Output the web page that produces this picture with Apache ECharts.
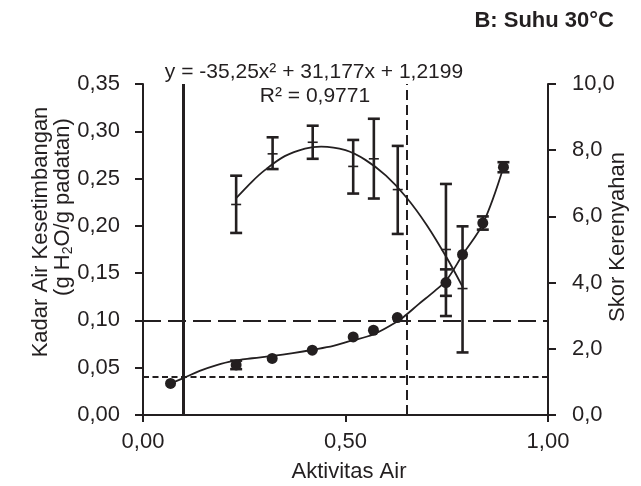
<!DOCTYPE html>
<html>
<head>
<meta charset="utf-8">
<script src="https://cdn.jsdelivr.net/npm/echarts@6/dist/echarts.min.js"></script>
<style>html,body{margin:0;padding:0;background:#fff}#c{width:641px;height:486px}</style>
</head>
<body>
<div id="c"></div>
<script>
// ---- data ----
const xTicks = [0, 0.5, 1.0];
const leftTicks = [0, 0.05, 0.10, 0.15, 0.20, 0.25, 0.30, 0.35];
const rightTicks = [0, 2, 4, 6, 8, 10];

// moisture isotherm (left axis)
const aw = [0.068, 0.230, 0.319, 0.418, 0.519, 0.569, 0.628, 0.748, 0.789, 0.839, 0.890];
const moisture = [0.0334, 0.053, 0.0598, 0.0685, 0.0826, 0.0896, 0.103, 0.140, 0.1697, 0.203, 0.262];
const moistureErr = [0, 0.0045, 0, 0, 0, 0, 0, 0.014, 0, 0.007, 0.0053];

// fitted isotherm curve
const moistCurveAw = [0.068, 0.10, 0.14, 0.18, 0.22, 0.27, 0.32, 0.37, 0.42, 0.47, 0.51, 0.57, 0.63, 0.65, 0.68, 0.72, 0.75, 0.79, 0.84, 0.89];
const moistCurveVal = [0.0334, 0.039, 0.0467, 0.0525, 0.0570, 0.0600, 0.0625, 0.0655, 0.0690, 0.0730, 0.0780, 0.0854, 0.0994, 0.1060, 0.1170, 0.1310, 0.1430, 0.1700, 0.2030, 0.2620];

// crispness score (right axis)
const crispAw = [0.230, 0.320, 0.419, 0.519, 0.570, 0.629, 0.748, 0.789];
const crispMean = [6.36, 7.89, 8.24, 7.51, 7.74, 6.81, 5.00, 3.82];
const crispLow = [5.50, 7.43, 7.74, 6.69, 6.54, 5.47, 2.99, 1.89];
const crispHigh = [7.23, 8.39, 8.74, 8.31, 8.95, 8.13, 6.98, 5.70];

// fitted crispness curve
const crispCurveAw = [0.23, 0.27, 0.30, 0.35, 0.40, 0.44, 0.50, 0.55, 0.60, 0.65, 0.70, 0.75, 0.79];
const crispCurveVal = [6.55, 7.06, 7.39, 7.82, 8.05, 8.11, 8.00, 7.70, 7.23, 6.58, 5.75, 4.75, 3.85];

// reference lines
const refAwSolid = 0.097;
const refAwDashed = 0.649;
const refMoistLong = 0.103;
const refMoistShort = 0.041;

const equationText = 'y = -35,25x² + 31,177x + 1,2199';
const r2Text = 'R² = 0,9771';
const titleText = 'B: Suhu 30°C';

// ---- chart ----
const INK = '#231f20';
const FONT = 'Liberation Sans';
const chart = echarts.init(document.getElementById('c'), null, {renderer: 'canvas'});

function errRender(params, api) {
  const x = api.value(0), lo = api.value(1), hi = api.value(2), mid = api.value(3);
  const pLo = api.coord([x, lo]), pHi = api.coord([x, hi]), pMid = api.coord([x, mid]);
  const cw = 6;
  const ch = [
    {type: 'line', shape: {x1: pLo[0], y1: pLo[1], x2: pHi[0], y2: pHi[1]}, style: {stroke: INK, lineWidth: 2.6}},
    {type: 'line', shape: {x1: pLo[0] - cw, y1: pLo[1], x2: pLo[0] + cw, y2: pLo[1]}, style: {stroke: INK, lineWidth: 2.6}},
    {type: 'line', shape: {x1: pHi[0] - cw, y1: pHi[1], x2: pHi[0] + cw, y2: pHi[1]}, style: {stroke: INK, lineWidth: 2.6}}
  ];
  if (!isNaN(mid)) {
    ch.push({type: 'line', shape: {x1: pMid[0] - 5, y1: pMid[1], x2: pMid[0] + 5, y2: pMid[1]}, style: {stroke: INK, lineWidth: 1.6}});
  }
  return {type: 'group', children: ch};
}

const crispBars = crispAw.map((x, i) => [x, crispLow[i], crispHigh[i], crispMean[i]]);
const moistBars = aw.map((x, i) => [x, moisture[i] - moistureErr[i], moisture[i] + moistureErr[i], NaN]).filter((d, i) => moistureErr[i] > 0);

const fmt2 = v => v.toFixed(2).replace('.', ',');
const fmt1 = v => v.toFixed(1).replace('.', ',');

const option = {
  animation: false,
  backgroundColor: '#fff',
  textStyle: {fontFamily: FONT},
  grid: {left: 143, right: 93, top: 84, height: 331},
  xAxis: {
    type: 'value', min: xTicks[0], max: xTicks[xTicks.length - 1], interval: 0.5,
    axisLine: {show: true, lineStyle: {color: INK, width: 2}},
    axisTick: {show: true, inside: false, length: 7, lineStyle: {color: INK, width: 2}},
    axisLabel: {formatter: fmt2, fontSize: 22, color: INK, fontFamily: FONT, margin: 16},
    splitLine: {show: false}
  },
  yAxis: [
    {
      type: 'value', min: leftTicks[0], max: leftTicks[leftTicks.length - 1], interval: 0.05,
      axisLine: {show: true, lineStyle: {color: INK, width: 2}},
      axisTick: {show: true, inside: false, length: 8, lineStyle: {color: INK, width: 2}},
      axisLabel: {formatter: fmt2, fontSize: 22, color: INK, fontFamily: FONT, margin: 23},
      splitLine: {show: false}
    },
    {
      type: 'value', min: rightTicks[0], max: rightTicks[rightTicks.length - 1], interval: 2,
      position: 'right',
      axisLine: {show: true, lineStyle: {color: INK, width: 2}},
      axisTick: {show: true, inside: false, length: 8, lineStyle: {color: INK, width: 2}},
      axisLabel: {formatter: fmt1, fontSize: 22, color: INK, fontFamily: FONT, margin: 24},
      splitLine: {show: false}
    }
  ],
  series: [
    {
      type: 'line', data: [], silent: true,
      markLine: {
        silent: true, symbol: 'none', label: {show: false}, animation: false,
        data: [
          {xAxis: refAwSolid, lineStyle: {color: INK, width: 3, type: 'solid'}},
          {xAxis: refAwDashed, lineStyle: {color: INK, width: 2, type: [10, 5]}},
          {yAxis: refMoistLong, lineStyle: {color: INK, width: 1.8, type: [18, 7]}},
          {yAxis: refMoistShort, lineStyle: {color: INK, width: 1.8, type: [6, 3.5]}}
        ]
      }
    },
    {
      type: 'line', xAxisIndex: 0, yAxisIndex: 0, smooth: 0.35, symbol: 'none',
      lineStyle: {color: INK, width: 1.8},
      data: moistCurveAw.map((x, i) => [x, moistCurveVal[i]])
    },
    {
      type: 'line', xAxisIndex: 0, yAxisIndex: 1, smooth: 0.35, symbol: 'none',
      lineStyle: {color: INK, width: 1.8},
      data: crispCurveAw.map((x, i) => [x, crispCurveVal[i]])
    },
    {
      type: 'custom', xAxisIndex: 0, yAxisIndex: 1, renderItem: errRender,
      encode: {x: 0, y: [1, 2]}, data: crispBars, z: 5
    },
    {
      type: 'custom', xAxisIndex: 0, yAxisIndex: 0, renderItem: errRender,
      encode: {x: 0, y: [1, 2]}, data: moistBars, z: 6
    },
    {
      type: 'scatter', xAxisIndex: 0, yAxisIndex: 0, symbol: 'circle', symbolSize: 11,
      itemStyle: {color: INK, opacity: 1}, z: 7,
      data: aw.map((x, i) => [x, moisture[i]])
    }
  ],
  graphic: [
    {type: 'text', right: 27, top: 10, style: {text: titleText, font: 'bold 22px "Liberation Sans"', fill: INK}},
    {type: 'text', x: 314, y: 72, style: {text: equationText, font: '21px "Liberation Sans"', fill: INK, textAlign: 'center', textVerticalAlign: 'middle'}},
    {type: 'text', x: 315, y: 96, style: {text: r2Text, font: '21px "Liberation Sans"', fill: INK, textAlign: 'center', textVerticalAlign: 'middle'}},
    {type: 'text', x: 349, y: 472, style: {text: 'Aktivitas Air', font: '22px "Liberation Sans"', fill: INK, textAlign: 'center', textVerticalAlign: 'middle'}},
    {type: 'text', x: 41, y: 232, rotation: Math.PI / 2, style: {text: 'Kadar Air Kesetimbangan', font: '22px "Liberation Sans"', fill: INK, textAlign: 'center', textVerticalAlign: 'middle'}},
    {type: 'text', x: 63, y: 207, rotation: Math.PI / 2, style: {
      text: '(g H{sub|2}O/g padatan)', fill: INK, textAlign: 'center', textVerticalAlign: 'middle',
      fontFamily: FONT, fontSize: 22, lineHeight: 24,
      rich: {sub: {fontFamily: FONT, fontSize: 14, lineHeight: 10, verticalAlign: 'bottom', fill: INK}}
    }},
    {type: 'text', x: 618, y: 237, rotation: Math.PI / 2, style: {text: 'Skor Kerenyahan', font: '22px "Liberation Sans"', fill: INK, textAlign: 'center', textVerticalAlign: 'middle'}}
  ]
};
chart.setOption(option);
</script>
</body>
</html>
